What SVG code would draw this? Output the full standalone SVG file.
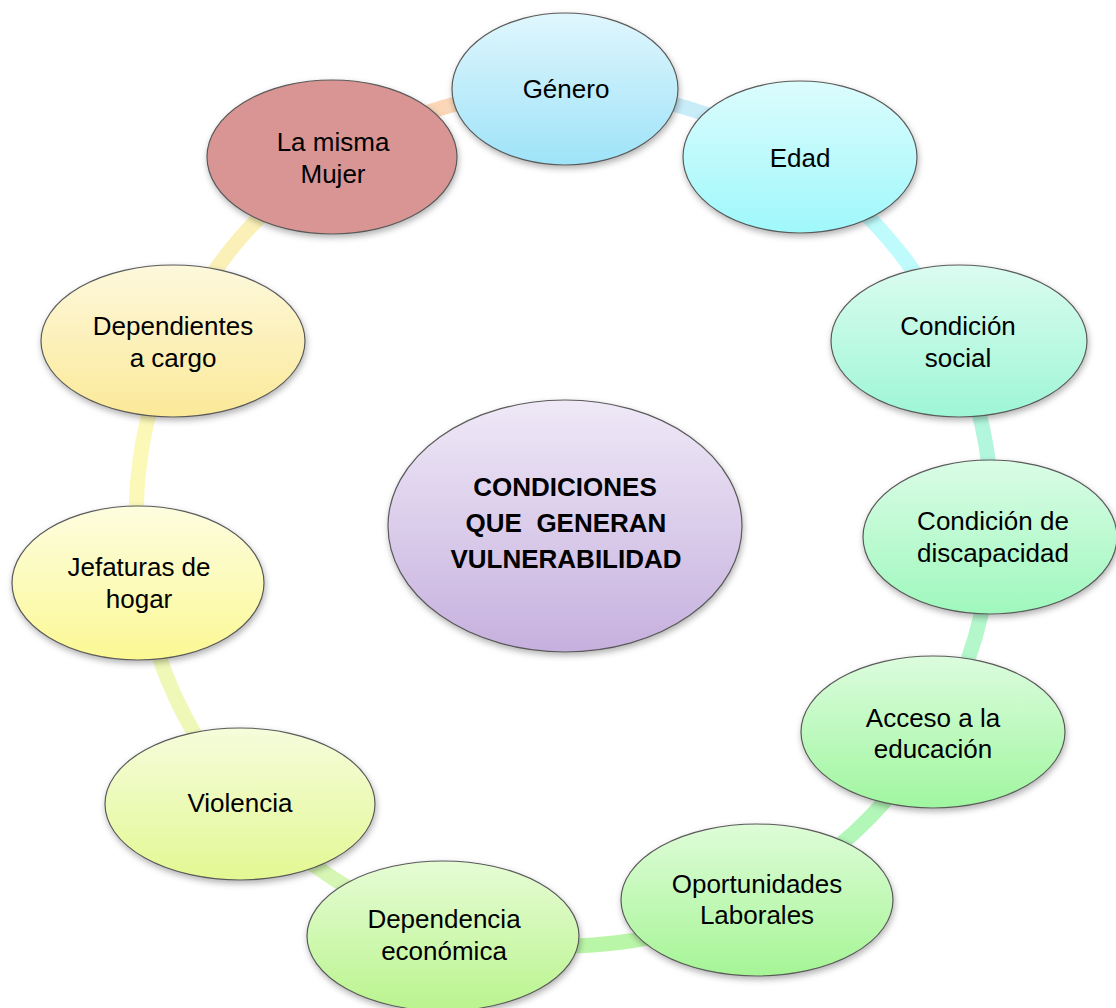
<svg xmlns="http://www.w3.org/2000/svg" width="1116" height="1008" viewBox="0 0 1116 1008">
<defs>
<style>
.node{stroke:#5a5a5a;stroke-width:1.2;filter:url(#sh)}
.lbl{font-family:"Liberation Sans",Arial,sans-serif;font-size:26px;fill:#000;text-anchor:middle}
.ctr{font-family:"Liberation Sans",Arial,sans-serif;font-size:26px;font-weight:bold;fill:#000;text-anchor:middle}
.ring{fill:none;stroke-width:15}
</style>
<filter id="sh" x="-20%" y="-20%" width="140%" height="150%">
<feDropShadow dx="1" dy="3" stdDeviation="3" flood-color="#000" flood-opacity="0.3"/>
</filter>
<linearGradient id="g1" x1="0" y1="0" x2="0" y2="1"><stop offset="0" stop-color="#e0f6fd"/><stop offset="1" stop-color="#9ee3f8"/></linearGradient>
<linearGradient id="g2" x1="0" y1="0" x2="0" y2="1"><stop offset="0" stop-color="#dcfcfd"/><stop offset="1" stop-color="#9ff8fb"/></linearGradient>
<linearGradient id="g3" x1="0" y1="0" x2="0" y2="1"><stop offset="0" stop-color="#dbfcf0"/><stop offset="1" stop-color="#9ef6d6"/></linearGradient>
<linearGradient id="g4" x1="0" y1="0" x2="0" y2="1"><stop offset="0" stop-color="#dafce6"/><stop offset="1" stop-color="#9ff8bd"/></linearGradient>
<linearGradient id="g5" x1="0" y1="0" x2="0" y2="1"><stop offset="0" stop-color="#dcfcdd"/><stop offset="1" stop-color="#a0f6a0"/></linearGradient>
<linearGradient id="g6" x1="0" y1="0" x2="0" y2="1"><stop offset="0" stop-color="#defcd8"/><stop offset="1" stop-color="#a6f596"/></linearGradient>
<linearGradient id="g7" x1="0" y1="0" x2="0" y2="1"><stop offset="0" stop-color="#e6fcd5"/><stop offset="1" stop-color="#baf48e"/></linearGradient>
<linearGradient id="g8" x1="0" y1="0" x2="0" y2="1"><stop offset="0" stop-color="#f5fcdb"/><stop offset="1" stop-color="#e3f893"/></linearGradient>
<linearGradient id="g9" x1="0" y1="0" x2="0" y2="1"><stop offset="0" stop-color="#fdfde0"/><stop offset="1" stop-color="#fbf894"/></linearGradient>
<linearGradient id="g10" x1="0" y1="0" x2="0" y2="1"><stop offset="0" stop-color="#fdf8dc"/><stop offset="1" stop-color="#fbe998"/></linearGradient>
<linearGradient id="gc" x1="0" y1="0" x2="0" y2="1"><stop offset="0" stop-color="#efe9f7"/><stop offset="1" stop-color="#c6b0de"/></linearGradient>
</defs>
<rect width="1116" height="1008" fill="#ffffff"/>
<g id="connectors">
<path class="ring" stroke="#fbd7b8" d="M332.8,157.8 A428,428 0 0 1 564.7,90"/>
<path class="ring" stroke="#c8edf8" d="M564.7,90 A428,428 0 0 1 798.4,159.8"/>
<path class="ring" stroke="#bffbfc" d="M798.4,159.8 A428,428 0 0 1 954.7,343.2"/>
<path class="ring" stroke="#b2f6dd" d="M954.7,343.2 A428,428 0 0 1 991.6,537"/>
<path class="ring" stroke="#b3f7cb" d="M991.6,537 A428,428 0 0 1 934.3,732.6"/>
<path class="ring" stroke="#b2f6b8" d="M934.3,732.6 A428,428 0 0 1 745.6,905.6"/>
<path class="ring" stroke="#baf6a8" d="M745.6,905.6 A428,428 0 0 1 443.2,928.6"/>
<path class="ring" stroke="#d6f7b4" d="M443.2,928.6 A428,428 0 0 1 243,801"/>
<path class="ring" stroke="#f0f8b8" d="M243,801 A428,428 0 0 1 141,582.7"/>
<path class="ring" stroke="#fbf8b8" d="M141,582.7 A428,428 0 0 1 174.2,341.5"/>
<path class="ring" stroke="#fbf1b8" d="M174.2,341.5 A428,428 0 0 1 332.8,157.8"/>
</g>
<g id="node-genero">
<ellipse class="node" cx="565" cy="89" rx="113" ry="76" fill="url(#g1)"/>
<text class="lbl" x="566" y="98">Género</text>
</g>
<g id="node-edad">
<ellipse class="node" cx="800" cy="157" rx="117" ry="76" fill="url(#g2)"/>
<text class="lbl" x="800" y="167">Edad</text>
</g>
<g id="node-condicion-social">
<ellipse class="node" cx="959" cy="341" rx="128" ry="76" fill="url(#g3)"/>
<text class="lbl" x="958" y="335">Condición</text>
<text class="lbl" x="958" y="367">social</text>
</g>
<g id="node-discapacidad">
<ellipse class="node" cx="990" cy="537" rx="127" ry="77" fill="url(#g4)"/>
<text class="lbl" x="993" y="530">Condición de</text>
<text class="lbl" x="993" y="562">discapacidad</text>
</g>
<g id="node-educacion">
<ellipse class="node" cx="933" cy="732" rx="132" ry="76" fill="url(#g5)"/>
<text class="lbl" x="933" y="727">Acceso a la</text>
<text class="lbl" x="933" y="758">educación</text>
</g>
<g id="node-oportunidades">
<ellipse class="node" cx="757" cy="900" rx="136" ry="76" fill="url(#g6)"/>
<text class="lbl" x="757" y="893">Oportunidades</text>
<text class="lbl" x="757" y="924">Laborales</text>
</g>
<g id="node-dependencia">
<ellipse class="node" cx="443" cy="936" rx="136" ry="75" fill="url(#g7)"/>
<text class="lbl" x="444" y="928">Dependencia</text>
<text class="lbl" x="444" y="960">económica</text>
</g>
<g id="node-violencia">
<ellipse class="node" cx="240" cy="804" rx="135" ry="76" fill="url(#g8)"/>
<text class="lbl" x="240" y="812">Violencia</text>
</g>
<g id="node-jefaturas">
<ellipse class="node" cx="138" cy="583" rx="126" ry="77" fill="url(#g9)"/>
<text class="lbl" x="139" y="576">Jefaturas de</text>
<text class="lbl" x="139" y="608">hogar</text>
</g>
<g id="node-dependientes">
<ellipse class="node" cx="173" cy="341" rx="132" ry="76" fill="url(#g10)"/>
<text class="lbl" x="173" y="335">Dependientes</text>
<text class="lbl" x="173" y="367">a cargo</text>
</g>
<g id="node-mujer">
<ellipse class="node" cx="332" cy="157" rx="125" ry="77" fill="#d99594"/>
<text class="lbl" x="333" y="151">La misma</text>
<text class="lbl" x="333" y="183">Mujer</text>
</g>
<g id="node-center">
<ellipse class="node" cx="565" cy="526" rx="177" ry="126" fill="url(#gc)"/>
<text class="ctr" x="565" y="496">CONDICIONES</text>
<text class="ctr" x="566" y="532" xml:space="preserve">QUE  GENERAN</text>
<text class="ctr" x="566" y="568">VULNERABILIDAD</text>
</g>
</svg>
